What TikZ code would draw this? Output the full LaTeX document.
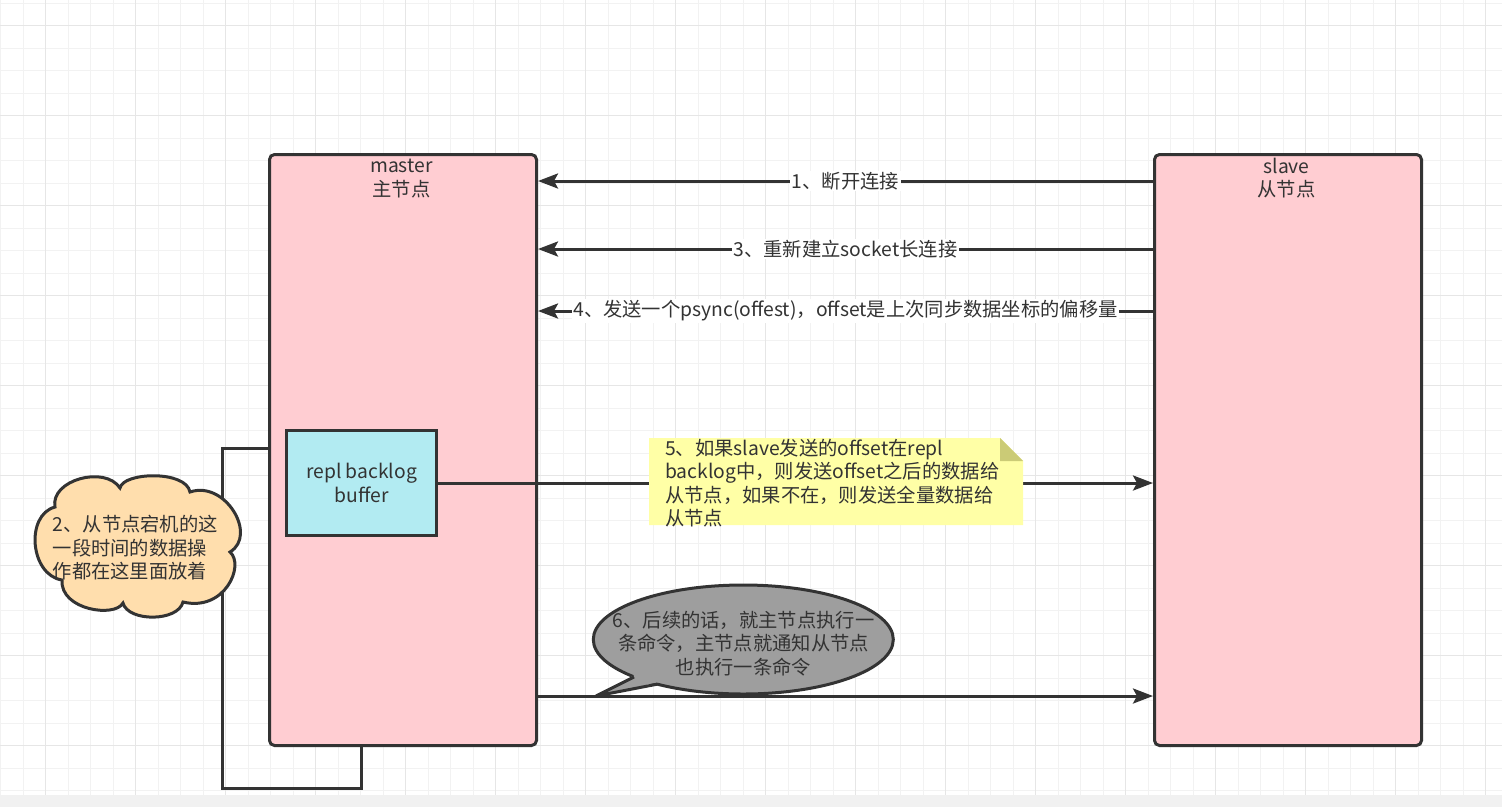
\documentclass[tikz,border=0pt]{standalone}
\usepackage{fontspec}
\setmainfont{Noto Sans CJK SC}
\usetikzlibrary{arrows.meta}
\pgfdeclarelayer{background}
\pgfsetlayers{background,main}
\definecolor{ink}{HTML}{333333}
\definecolor{pinkfill}{HTML}{FFCDD2}
\definecolor{cyanfill}{HTML}{B2EBF2}
\definecolor{cloudfill}{HTML}{FFDEAD}
\definecolor{notefill}{HTML}{FFFFA6}
\definecolor{notefold}{HTML}{CBCB76}
\definecolor{callfill}{HTML}{9E9E9E}
\definecolor{gridminor}{HTML}{F2F2F2}
\definecolor{gridmajor}{HTML}{E6E6E6}
\definecolor{band}{HTML}{F1F1F1}
\begin{document}
\begin{tikzpicture}[x=1pt,y=-1pt,
  every node/.style={text=ink, font=\fontsize{19.3}{23.5}\selectfont, inner sep=0pt},
  bigbox/.style={draw=ink, line width=3pt, fill=pinkfill, rounded corners=5pt, anchor=north west, minimum width=267pt, minimum height=591pt},
  conn/.style={draw=ink, line width=3pt},
  arr/.style={conn, -{Stealth[length=20pt,width=15pt,inset=4pt]}},
  lbl/.style={fill=white, inner sep=1.5pt},
  shapeline/.style={draw=ink, line width=3pt},
]
\useasboundingbox (0,0) rectangle (1502,807);
\begin{pgfonlayer}{background}
\fill[white] (0,0) rectangle (1502,807);
\foreach \i in {0,...,66} \draw[gridminor, line width=1.2pt] ({0.7+22.5*\i},0) -- ({0.7+22.5*\i},795);
\foreach \j in {0,...,35} \draw[gridminor, line width=1.2pt] (0,{3.2+22.5*\j}) -- (1502,{3.2+22.5*\j});
\foreach \i in {0,...,16} \draw[gridmajor, line width=1.4pt] ({45.7+90*\i},0) -- ({45.7+90*\i},795);
\foreach \j in {0,...,8} \draw[gridmajor, line width=1.4pt] (0,{25.7+90*\j}) -- (1502,{25.7+90*\j});
\fill[band] (0,795) rectangle (1502,807);
\end{pgfonlayer}

% main boxes
\node[bigbox] (master) at (268,153) {};
\node[bigbox] (slave) at (1153,153) {};
\node[align=center] (mastertxt) at (401.5,178.3) {master\\主节点};
\node[align=center] (slavetxt) at (1286.5,178.3) {slave\\从节点};

\node[draw=ink, line width=3pt, fill=cyanfill, anchor=north west, minimum width=150pt, minimum height=105pt, align=center] (buf) at (285,429) {repl backlog\\buffer};

% loop connector, under the master box
\begin{pgfonlayer}{background}
\draw[conn] (master.west |- 0,448) -| (222,788) -| (master.south -| buf.south);
\end{pgfonlayer}

% arrows slave -> master
\draw[arr] (slave.west |- 0,181) -- node[lbl] (l1) {1、断开连接} (master.east |- 0,181);
\draw[arr] (slave.west |- 0,249) -- node[lbl] (l3) {3、重新建立socket长连接} (master.east |- 0,249);
\draw[arr] (slave.west |- 0,311) -- node[lbl] (l4) {4、发送一个psync(offest)，offset是上次同步数据坐标的偏移量} (master.east |- 0,311);

% arrows master -> slave
\draw[arr] (buf.east) -- (slave.west |- buf.east);
\draw[arr] (master.east |- 0,696) -- (slave.west |- 0,696);

% note
\fill[notefill] (649,438) -- (1000,438) -- (1023,461) -- (1023,525) -- (649,525) -- cycle;
\fill[notefold] (1000,438) -- (1000,461) -- (1023,461) -- cycle;
\node[anchor=west, align=left] (note) at (665,483) {5、如果slave发送的offset在repl\\backlog中，则发送offset之后的数据给\\从节点，如果不在，则发送全量数据给\\从节点};

% cloud
\path[shapeline, fill=cloudfill]
  (55,507) .. controls (50,480) and (105,465) .. (120,488)
  .. controls (123,472) and (186,470) .. (190,492)
  .. controls (225,480) and (258,535) .. (230,552)
  .. controls (245,565) and (225,612) .. (183,602)
  .. controls (178,622) and (128,622) .. (123,603)
  .. controls (115,618) and (60,610) .. (62,580)
  .. controls (30,575) and (25,515) .. (55,507) -- cycle;
\node[anchor=west, align=left] (cloudtxt) at (52.5,548) {2、从节点宕机的这\\一段时间的数据操\\作都在这里面放着};

% callout
\path[shapeline, fill=callfill] (743.3,639.5) ellipse [x radius=150, y radius=54.5];
\fill[callfill] (597,696) -- (640,672) -- (668,680) -- cycle;
\draw[ink, line width=3pt, line join=bevel] (634,677) -- (596,696) -- (657,684.2);
\node[align=center] (calltxt) at (743.5,643.3) {6、后续的话，就主节点执行一\\条命令，主节点就通知从节点\\也执行一条命令};
\end{tikzpicture}
\end{document}
